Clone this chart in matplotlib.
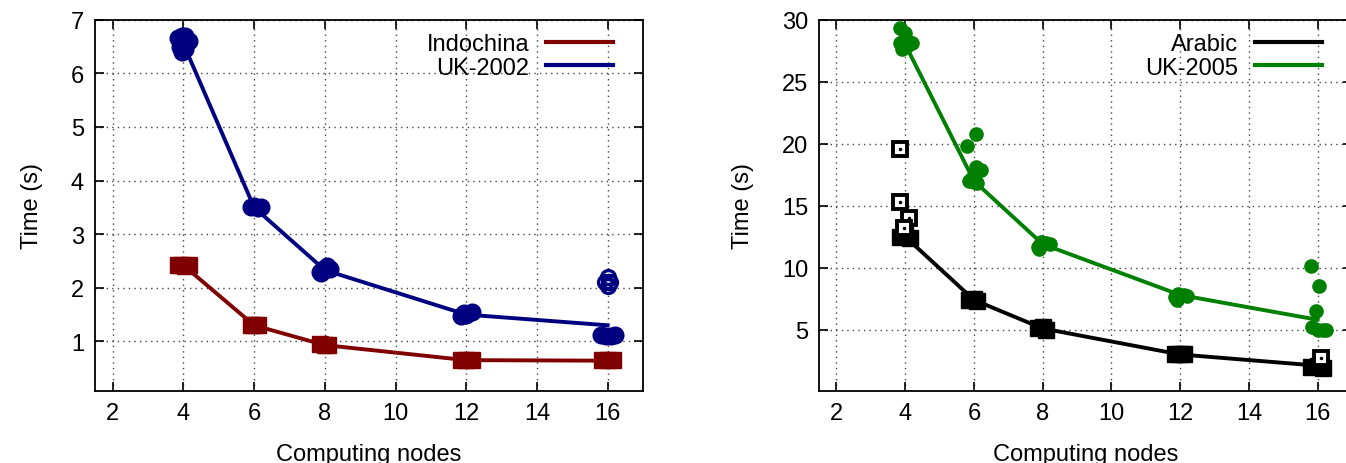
import matplotlib
matplotlib.use("Agg")
import matplotlib.pyplot as plt
from matplotlib.lines import Line2D

plt.rcParams['font.family'] = ['Liberation Sans', 'DejaVu Sans']
plt.rcParams['font.size'] = 17

nodes = [4, 6, 8, 12, 16]

# left panel: mean times per node count
indochina_mean = [2.42, 1.30, 0.93, 0.65, 0.64]
uk2002_mean = [6.55, 3.50, 2.33, 1.50, 1.30]
# individual runs (x jittered around node count)
indochina_x = [3.85, 3.95, 4.05, 4.15, 5.9, 6.0, 6.1, 7.85, 8.0, 8.1, 11.85, 12.0, 12.15, 15.85, 16.0, 16.15]
indochina_y = [2.42, 2.43, 2.41, 2.42, 1.30, 1.30, 1.30, 0.95, 0.93, 0.93, 0.65, 0.65, 0.65, 0.65, 0.65, 0.65]
uk2002_x = [3.85, 3.95, 4.0, 3.9, 4.05, 4.15, 4.05, 3.95, 5.9, 6.0, 6.1, 6.2, 7.85, 7.95, 8.05, 8.15, 7.9,
            11.85, 12.0, 12.15, 11.95, 15.8, 15.95, 16.1, 16.2]
uk2002_y = [6.65, 6.70, 6.55, 6.50, 6.45, 6.60, 6.70, 6.40, 3.50, 3.52, 3.48, 3.50, 2.30, 2.35, 2.40, 2.35, 2.28,
            1.48, 1.50, 1.55, 1.53, 1.12, 1.10, 1.10, 1.12]
uk2002_out_x = [15.92, 16.08, 16.0, 16.0]
uk2002_out_y = [2.10, 2.10, 2.20, 2.04]

# right panel
arabic_mean = [12.5, 7.4, 5.1, 3.0, 2.1]
uk2005_mean = [28.0, 17.0, 11.9, 7.8, 5.8]
arabic_x = [3.85, 4.0, 4.15, 3.95, 5.85, 6.0, 6.1, 7.85, 8.0, 8.1, 11.85, 12.0, 12.1, 15.8, 16.0, 16.15]
arabic_y = [12.5, 12.6, 12.4, 12.8, 7.4, 7.5, 7.3, 5.1, 5.2, 5.0, 3.0, 3.0, 3.0, 2.0, 2.1, 1.9]
arabic_out_x = [3.85, 3.85, 4.1, 3.95, 16.1]
arabic_out_y = [19.6, 15.3, 14.0, 13.2, 2.7]
uk2005_x = [3.85, 4.0, 3.95, 3.85, 4.1, 4.2, 3.9, 4.05,
            5.8, 6.05, 6.05, 6.2, 5.85, 6.0, 6.1, 5.95,
            7.85, 7.95, 8.1, 8.2, 7.9,
            11.85, 11.95, 12.1, 12.2, 11.9,
            15.8, 16.05, 15.95, 15.85, 16.0, 16.15, 16.25]
uk2005_y = [29.3, 28.9, 28.4, 28.1, 28.2, 28.1, 27.6, 27.9,
            19.8, 20.8, 18.1, 17.9, 17.0, 16.9, 16.8, 17.2,
            11.7, 12.1, 12.0, 11.9, 11.5,
            7.6, 7.9, 7.8, 7.7, 7.4,
            10.1, 8.5, 6.5, 5.2, 5.0, 5.0, 5.0]

red = '#800000'
navy = '#000080'
green = '#008000'
black = '#000000'

fig = plt.figure(figsize=(13.46, 4.64), dpi=100)
ax1 = fig.add_axes([95/1346, 1-391.7/464, (643-95)/1346, (391.7-20.7)/464])
ax2 = fig.add_axes([819.3/1346, 1-391.7/464, (1352-819.3)/1346, (391.7-20.7)/464])


def style(ax, ylim, yticks):
    ax.set_xlim(1.5, 17)
    ax.set_ylim(*ylim)
    ax.set_xticks([2, 4, 6, 8, 10, 12, 14, 16])
    ax.set_yticks(yticks)
    ax.tick_params(direction='in', length=6.5, width=1.2, top=True, right=True, pad=8)
    ax.grid(True, color='#444444', linestyle=(0, (1, 3)), linewidth=1.0)
    ax.set_axisbelow(True)
    for s in ax.spines.values():
        s.set_linewidth(1.3)
    ax.set_xlabel('Computing nodes', labelpad=14)
    ax.set_ylabel('Time (s)', labelpad=20)


# left
ax1.plot(nodes, indochina_mean, color=red, lw=2.8, zorder=3)
ax1.plot(indochina_x, indochina_y, 's', color=red, ms=11, zorder=3)
ax1.plot(nodes, uk2002_mean, color=navy, lw=2.8, zorder=3)
ax1.plot(uk2002_x, uk2002_y, 'o', color=navy, ms=12, zorder=3)
ax1.plot(uk2002_out_x, uk2002_out_y, 'o', color=navy, mfc='none', mew=2.4, ms=10, zorder=3)
style(ax1, (0.08, 7), [1, 2, 3, 4, 5, 6, 7])

h1 = [Line2D([], [], color=red, lw=3), Line2D([], [], color=navy, lw=3)]
ax1.legend(h1, ['Indochina', 'UK-2002'], loc='upper right', bbox_to_anchor=(0.945, 0.963),
           frameon=False, markerfirst=False, handlelength=2.85, handletextpad=0.7,
           labelspacing=0.05, borderpad=0, borderaxespad=0)

# right
ax2.plot(nodes, arabic_mean, color=black, lw=2.8, zorder=3)
ax2.plot(arabic_x, arabic_y, 's', color=black, ms=12, zorder=3)
ax2.plot(arabic_out_x, arabic_out_y, 's', color=black, mfc='white', mew=2.8, ms=10, zorder=3)
ax2.plot(arabic_out_x, arabic_out_y, '.', color=black, ms=3, zorder=4)
ax2.plot(nodes, uk2005_mean, color=green, lw=2.8, zorder=3)
ax2.plot(uk2005_x, uk2005_y, 'o', color=green, ms=9.5, zorder=3)
style(ax2, (0.08, 30), [5, 10, 15, 20, 25, 30])

h2 = [Line2D([], [], color=black, lw=3), Line2D([], [], color=green, lw=3)]
ax2.legend(h2, ['Arabic', 'UK-2005'], loc='upper right', bbox_to_anchor=(0.944, 0.963),
           frameon=False, markerfirst=False, handlelength=2.85, handletextpad=0.7,
           labelspacing=0.05, borderpad=0, borderaxespad=0)

fig.savefig('out.png', dpi=100)
